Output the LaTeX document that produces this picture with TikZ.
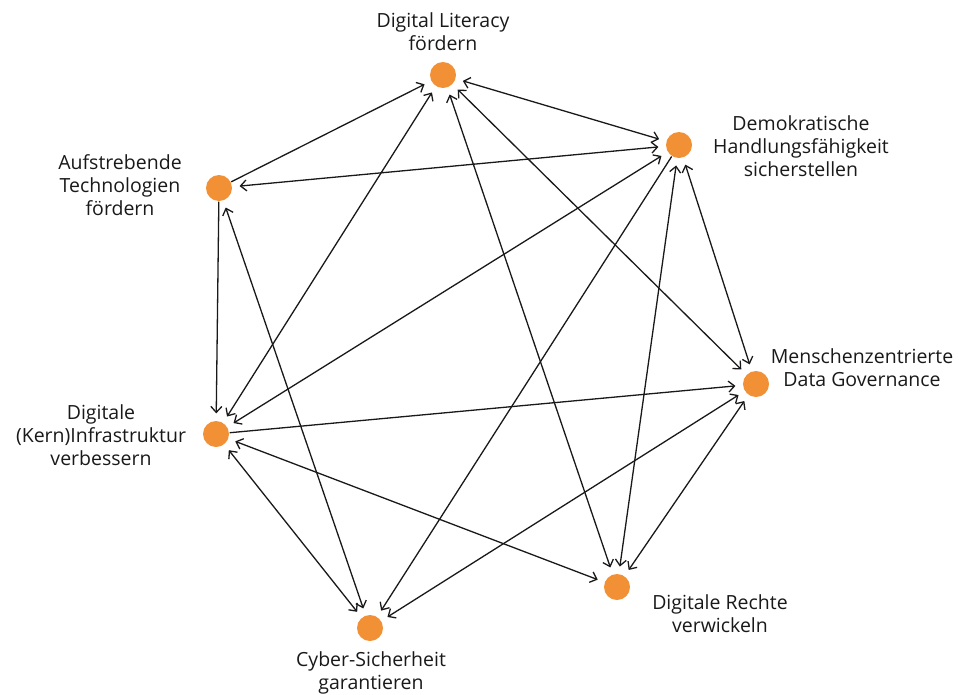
\documentclass[tikz,border=0pt]{standalone}
\usepackage{fontspec}
\setmainfont{Open Sans}
\usetikzlibrary{arrows.meta}
\definecolor{DotClr}{rgb}{0.945,0.565,0.208}
\definecolor{LineClr}{rgb}{0.1,0.1,0.1}

\tikzset{
  dot/.style={circle,fill=DotClr,minimum size=26pt,inner sep=0pt},
  lbl/.style={align=center,font=\fontsize{19.5}{23}\selectfont,text=LineClr},
  arr/.style={-{Straight Barb[length=6pt,width=11pt]},shorten >=7pt},
  biarr/.style={{Straight Barb[length=6pt,width=11pt]}-{Straight Barb[length=6pt,width=11pt]},shorten >=7pt,shorten <=7pt}
}

\begin{document}
\begin{tikzpicture}[x=1pt,y=-1pt,line width=1.3pt,draw=LineClr]
\useasboundingbox (0,0) rectangle (959,694);

\node[dot] (DL) at (443,75) {};
\node[dot] (DH) at (679,145) {};
\node[dot] (AT) at (219,188) {};
\node[dot] (MD) at (756,384) {};
\node[dot] (DK) at (216,434) {};
\node[dot] (DR) at (617,587) {};
\node[dot] (CS) at (370,628) {};

\node[lbl] (DLtext) at (443,32) {Digital Literacy\\fördern};
\node[lbl] (DHtext) at (801,146) {Demokratische\\Handlungsfähigkeit\\sicherstellen};
\node[lbl] (ATtext) at (120,185) {Aufstrebende\\Technologien\\fördern};
\node[lbl] (MDtext) at (862,368) {Menschenzentrierte\\Data Governance};
\node[lbl] (DKtext) at (101,435) {Digitale\\(Kern)Infrastruktur\\verbessern};
\node[lbl] (DRtext) at (720,614) {Digitale Rechte\\verwickeln};
\node[lbl] (CStext) at (371,673) {Cyber-Sicherheit\\garantieren};

% one-way links
\draw[arr] (AT) -- (DL);
\draw[arr] (AT) -- (DK);
\draw[arr] (DH) -- (CS);
\draw[arr] (DK) -- (MD);

% two-way links
\draw[biarr] (DL) -- (DH);
\draw[biarr] (DH) -- (AT);
\draw[biarr] (CS) -- (AT);
\draw[biarr] (DK) -- (DL);
\draw[biarr] (DR) -- (DL);
\draw[biarr] (MD) -- (DL);
\draw[biarr] (DK) -- (DH);
\draw[biarr] (DR) -- (DH);
\draw[biarr] (MD) -- (DH);
\draw[biarr] (DK) -- (DR);
\draw[biarr] (DK) -- (CS);
\draw[biarr] (MD) -- (DR);
\draw[biarr] (MD) -- (CS);

\end{tikzpicture}
\end{document}
